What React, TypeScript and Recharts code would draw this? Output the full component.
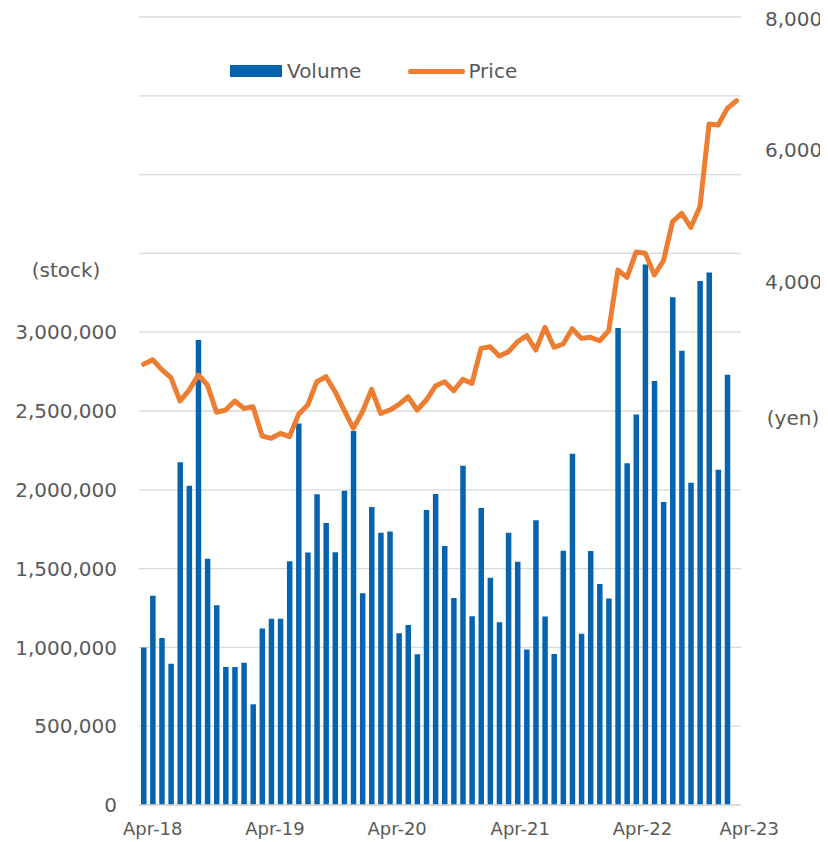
import React from "react";
import { ComposedChart, Bar, Line, XAxis, YAxis, CartesianGrid, Legend, Label } from "recharts";

// monthly trading volume (stock), one bar per period
const volume = [
  1000000, 1327000, 1059000, 897000, 2175000, 2025000, 2950000, 1562000, 1268000, 876000,
  876000, 902000, 639000, 1120000, 1182000, 1182000, 1546000, 2420000, 1602000, 1971000,
  1790000, 1604000, 1994000, 2373000, 1344000, 1891000, 1727000, 1736000, 1090000, 1142000,
  956000, 1872000, 1973000, 1644000, 1313000, 2152000, 1198000, 1884000, 1442000, 1160000,
  1727000, 1543000, 987000, 1806000, 1196000, 958000, 1614000, 2229000, 1086000, 1611000,
  1402000, 1311000, 3026000, 2169000, 2478000, 3430000, 2690000, 1923000, 3221000, 2882000,
  2044000, 3325000, 3379000, 2128000, 2730000,
];

// share price (yen), one more point than volume
const price = [
  2711, 2780, 2630, 2507, 2152, 2319, 2548, 2396, 1980, 2015,
  2152, 2040, 2065, 1619, 1584, 1660, 1609, 1949, 2091, 2446,
  2522, 2294, 2010, 1736, 1989, 2330, 1964, 2015, 2102, 2217,
  2015, 2167, 2380, 2446, 2309, 2482, 2421, 2954, 2979, 2837,
  2903, 3055, 3147, 2929, 3274, 2970, 3020, 3253, 3106, 3122,
  3070, 3223, 4147, 4035, 4421, 4401, 4071, 4289, 4883, 5010,
  4797, 5111, 6370, 6355, 6609, 6725,
];

const xTickPos = [1, 14.4, 27.8, 41.3, 54.7, 66.4];
const xTickLabels = ["Apr-18", "Apr-19", "Apr-20", "Apr-21", "Apr-22", "Apr-23"];

const volTicks = [0, 500000, 1000000, 1500000, 2000000, 2500000, 3000000, 3500000, 4000000, 4500000, 5000000];
const priceTicks = [4000, 6000, 8000];

const data = price.map((p, i) => ({
  t: i,
  volume: i < volume.length ? volume[i] : null,
  price: p,
}));

const FONT = "'DejaVu Sans', Verdana, sans-serif";
const TEXT = "#595959";
const BLUE = "#0563b0";
const ORANGE = "#ed7d31";

const LegendBox = () => (
  <div style={{ display: "flex", alignItems: "center", fontFamily: FONT, fontSize: 20, color: TEXT }}>
    <span style={{ width: 52, height: 12, background: BLUE, marginRight: 5 }} />
    <span>Volume</span>
    <span style={{ width: 57, height: 5, background: ORANGE, borderRadius: 3, marginLeft: 47, marginRight: 3 }} />
    <span>Price</span>
  </div>
);

export default function App() {
  // pull the chart up over the body margin so the top tick label has room
  return (
    <div style={{ marginTop: -8 }}>
      <ComposedChart
        width={820}
        height={842}
        data={data}
        margin={{ top: 17, right: 0, bottom: 0, left: 0 }}
        style={{ fontFamily: FONT }}
      >
        <CartesianGrid vertical={false} yAxisId="vol" xAxisId="num" stroke="#d9d9d9" strokeWidth={1.3} />
        <XAxis
          xAxisId="num"
          dataKey="t"
          type="number"
          domain={[-0.5, 65.5]}
          allowDataOverflow
          ticks={xTickPos}
          interval={0}
          tickFormatter={(v) => xTickLabels[xTickPos.indexOf(v)] ?? ""}
          height={37}
          tickLine={false}
          axisLine={{ stroke: "#d9d9d9", strokeWidth: 1.3 }}
          tickMargin={11}
          tick={{ fill: TEXT, fontSize: 18, fontFamily: FONT }}
        />
        <XAxis xAxisId="cat" dataKey="t" type="category" hide height={0} />
        <YAxis
          yAxisId="vol"
          domain={[0, 5000000]}
          ticks={volTicks}
          interval={0}
          width={131}
          tickLine={false}
          axisLine={false}
          tickMargin={16}
          tick={{ fill: TEXT, fontSize: 20, fontFamily: FONT }}
          tickFormatter={(v) => (v <= 3000000 ? v.toLocaleString("en-US") : "")}
        >
          <Label
            content={({ viewBox }) => {
              const { x, y } = viewBox as { x: number; y: number };
              return (
                <text x={x + 58} y={y + 253} textAnchor="middle" dominantBaseline="central" fill={TEXT} fontSize={20} fontFamily={FONT}>
                  (stock)
                </text>
              );
            }}
          />
        </YAxis>
        <YAxis
          yAxisId="px"
          orientation="right"
          domain={[-4000, 8000]}
          ticks={priceTicks}
          interval={0}
          width={87}
          tickLine={false}
          axisLine={false}
          tickMargin={18}
          tick={{ fill: TEXT, fontSize: 20, fontFamily: FONT, textAnchor: "start", dy: 2 }}
          tickFormatter={(v) => v.toLocaleString("en-US")}
        >
          <Label
            content={({ viewBox }) => {
              const { x, y } = viewBox as { x: number; y: number };
              return (
                <text x={x + 52} y={y + 401} textAnchor="middle" dominantBaseline="central" fill={TEXT} fontSize={20} fontFamily={FONT}>
                  (yen)
                </text>
              );
            }}
          />
        </YAxis>
        <Legend
          layout="horizontal"
          verticalAlign="middle"
          align="center"
          content={() => <LegendBox />}
          wrapperStyle={{ top: 59, left: 222, width: "auto", height: 26 }}
        />
        <Bar xAxisId="cat" yAxisId="vol" dataKey="volume" name="Volume" fill={BLUE} barSize={5.5} isAnimationActive={false} />
        <Line
          xAxisId="num"
          yAxisId="px"
          dataKey="price"
          name="Price"
          type="linear"
          stroke={ORANGE}
          strokeWidth={5}
          strokeLinejoin="round"
          strokeLinecap="round"
          dot={false}
          activeDot={false}
          isAnimationActive={false}
        />
      </ComposedChart>
    </div>
  );
}
